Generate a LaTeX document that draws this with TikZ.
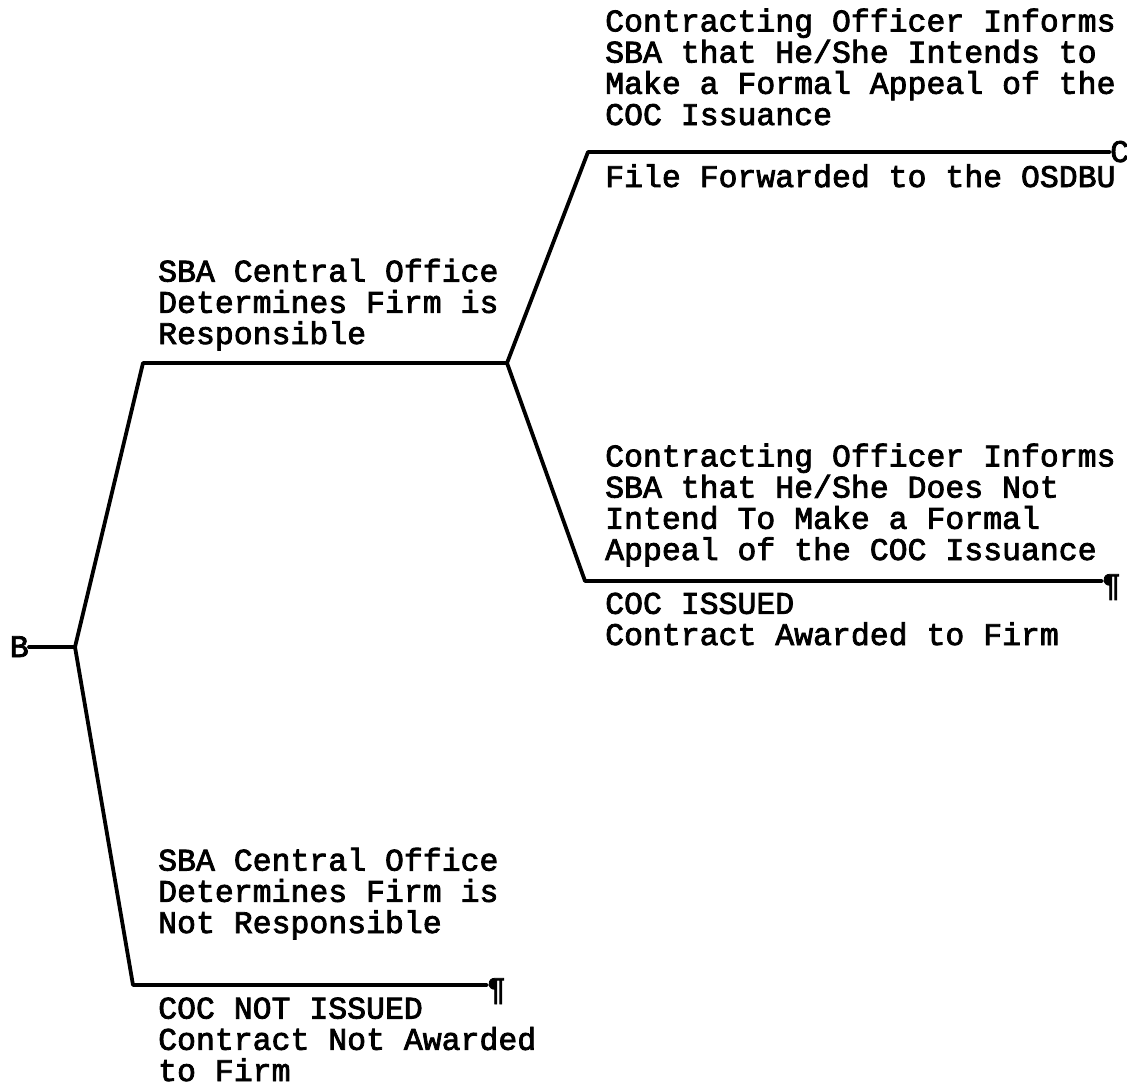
\documentclass[tikz,border=0pt]{standalone}
\usepackage{fontspec}
\usepackage{tikz}
\usetikzlibrary{positioning}
\newfontfamily\typewriter[FakeBold=2.5]{Liberation Mono}
\newcommand{\tyfont}{\typewriter\fontsize{31.5}{31.2}\selectfont}

\begin{document}
\begin{tikzpicture}[
    x=1pt, y=-1pt,
    branch/.style={line width=3.8pt, line join=round, line cap=round},
    label/.style={anchor=base west, align=left, inner sep=0pt, font=\tyfont},
    endmark/.style={inner sep=0pt, font=\tyfont}
]
    \useasboundingbox (0,0) rectangle (1127,1088);

    \coordinate (root) at (75,647);
    \coordinate (upcorner) at (143,363);
    \coordinate (mid) at (507,363);
    \coordinate (lowcorner) at (133,985);
    \coordinate (appealcorner) at (588,152);
    \coordinate (noappealcorner) at (585,581);

    \node[endmark, anchor=base east] (B) at (29,657) {B};
    \node[endmark, anchor=base west] (C) at (1110,162) {C};
    \node[endmark, anchor=base west] (issued) at (1102,595) {¶};
    \node[endmark, anchor=base west] (notissued) at (487,999) {¶};

    \draw[branch] (B.east |- root) -- (root);
    \draw[branch] (root) -- (upcorner) -- (mid);
    \draw[branch] (root) -- (lowcorner) -- (lowcorner -| notissued.west);
    \draw[branch] (mid) -- (appealcorner) -- (appealcorner -| C.west);
    \draw[branch] (mid) -- (noappealcorner) -- (noappealcorner -| issued.west);

    % last line of each label sits on the given baseline
    \node[label] (appeal) at (605,125) {Contracting Officer Informs\\SBA that He/She Intends to\\Make a Formal Appeal of the\\COC Issuance};
    \node[label] (forward) at (605,187) {File Forwarded to the OSDBU};
    \node[label] (resp) at (158,344) {SBA Central Office\\Determines Firm is\\Responsible};
    \node[label] (noappeal) at (605,560) {Contracting Officer Informs\\SBA that He/She Does Not\\Intend To Make a Formal\\Appeal of the COC Issuance};
    \node[label] (award) at (605,645) {COC ISSUED\\Contract Awarded to Firm};
    \node[label] (notresp) at (158,933) {SBA Central Office\\Determines Firm is\\Not Responsible};
    \node[label] (noaward) at (158,1081) {COC NOT ISSUED\\Contract Not Awarded\\to Firm};
\end{tikzpicture}
\end{document}
